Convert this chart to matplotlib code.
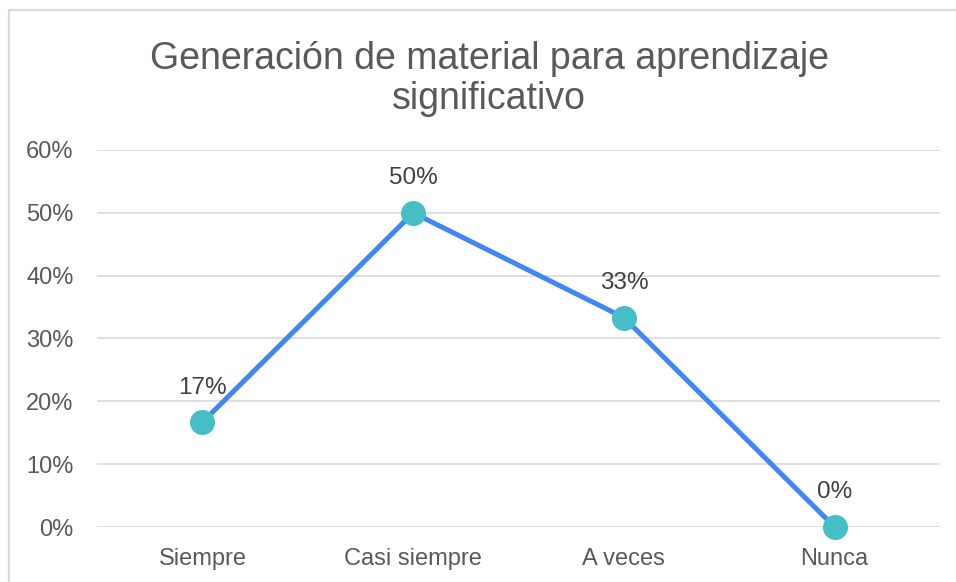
import matplotlib
matplotlib.use("Agg")
import matplotlib.pyplot as plt
from matplotlib.patches import Rectangle
from matplotlib.ticker import FuncFormatter

categories = ["Siempre", "Casi siempre", "A veces", "Nunca"]
values = [0.1667, 0.50, 0.3333, 0.0]
value_labels = ["17%", "50%", "33%", "0%"]

plt.rcParams['font.family'] = ['Liberation Sans', 'DejaVu Sans']
text_color = '#595959'

fig = plt.figure(figsize=(9.56, 5.82), dpi=100)
ax = fig.add_axes([0.1015, 0.0945, 0.8818, 0.6478])

# outer chart border (only top/left visible in the reference)
fig.patches.append(Rectangle((9/956, -0.05), 1.2, 1 - 10/582 + 0.05, transform=fig.transFigure,
                             fill=False, edgecolor='#D9D9D9', linewidth=1.6))

x = list(range(len(categories)))
ax.plot(x, values, color='#4285F4', linewidth=3.6, zorder=3, solid_capstyle='round', clip_on=False)
ax.plot(x, values, linestyle='none', marker='o', markersize=17, color='#45BEC6', zorder=4, clip_on=False)

for xi, v, lab in zip(x, values, value_labels):
    ax.annotate(lab, (xi, v), xytext=(0, 25), textcoords='offset points',
                ha='center', va='center', fontsize=17.5, color='#404040')

ax.set_xlim(-0.5, 3.5)
ax.set_ylim(0, 0.6)
ax.set_yticks([0, 0.1, 0.2, 0.3, 0.4, 0.5, 0.6])
ax.yaxis.set_major_formatter(FuncFormatter(lambda v, p: f"{round(v*100)}%"))
ax.set_xticks(x)
ax.set_xticklabels(categories)
ax.tick_params(length=0, labelsize=17, labelcolor=text_color)
ax.tick_params(axis='y', pad=17)
ax.tick_params(axis='x', pad=15)
ax.grid(axis='y', color='#D9D9D9', linewidth=1.2)
ax.set_axisbelow(True)
for s in ax.spines.values():
    s.set_visible(False)

fig.text(489/956, 1 - 79/582, "Generación de material para aprendizaje\nsignificativo",
         ha='center', va='center', fontsize=27, color=text_color, linespacing=1.12)

fig.savefig("out.png", dpi=100)
